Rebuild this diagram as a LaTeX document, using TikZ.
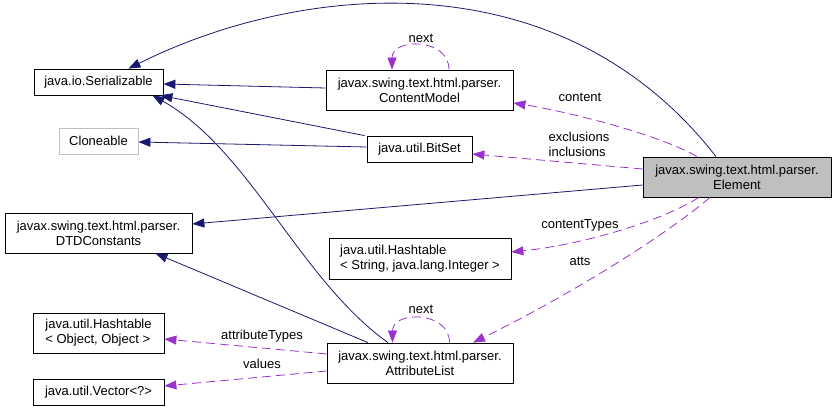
\documentclass[tikz,border=0pt]{standalone}
\usepackage{fontspec}
\setmainfont{Liberation Sans}
\usetikzlibrary{arrows.meta}
\definecolor{inhblue}{RGB}{25,25,112}
\definecolor{usepurple}{RGB}{154,50,205}

\begin{document}
\begin{tikzpicture}[
  x=1pt, y=-1pt,
  cls/.style={draw, line width=0.8pt, inner sep=0pt, font=\fontsize{13}{15}\selectfont, align=center},
  ext/.style={cls, draw=black!25},
  cur/.style={cls, fill=black!25},
  lbl/.style={inner sep=0pt, font=\fontsize{13}{15}\selectfont},
  inh/.style={draw=inhblue, line width=0.8pt, -{Triangle[length=12pt, width=9pt]}},
  memb/.style={draw=usepurple, line width=0.8pt, dash pattern=on 9pt off 5pt, -{Triangle[length=12pt, width=9pt]}},
]
  \useasboundingbox (0,0) rectangle (836,411);

  \node[cls, minimum width=129pt, minimum height=26pt] (ser)    at (98.5, 82)   {java.io.Serializable};
  \node[ext, minimum width=79pt,  minimum height=26pt] (clone)  at (98.5, 141)  {Cloneable};
  \node[cls, minimum width=187pt, minimum height=40pt] (cmodel) at (419.5, 90)  {javax.swing.text.html.parser.\\ContentModel};
  \node[cls, minimum width=105pt, minimum height=26pt] (bitset) at (419.5, 149) {java.util.BitSet};
  \node[cur, minimum width=188pt, minimum height=40pt] (elem)   at (737, 177)   {javax.swing.text.html.parser.\\Element};
  \node[cls, minimum width=187pt, minimum height=40pt] (dtd)    at (98.5, 233)  {javax.swing.text.html.parser.\\DTDConstants};
  \node[cls, align=left, minimum width=182pt, minimum height=41pt] (htsi) at (420, 258.5) {java.util.Hashtable\\< String, java.lang.Integer >};
  \node[cls, align=left, minimum width=131pt, minimum height=40pt] (htoo) at (98.5, 333)  {java.util.Hashtable\\< Object, Object >};
  \node[cls, minimum width=131pt, minimum height=26pt] (vec)    at (98.5, 392)  {java.util.Vector<?>};
  \node[cls, minimum width=186pt, minimum height=40pt] (alist)  at (420, 363)   {javax.swing.text.html.parser.\\AttributeList};

  % inheritance
  \draw[inh] ([xshift=-21pt]elem.north) .. controls (560,-44) and (300,-17) .. ([xshift=30pt]ser.north);
  \draw[inh] ([yshift=2pt]cmodel.west) -- ([yshift=-2pt]ser.east);
  \draw[inh] ([xshift=-2pt]bitset.north west) -- ([xshift=-3pt]ser.south east);
  \draw[inh] ([yshift=2pt]bitset.west) -- ([yshift=-1pt]clone.east);
  \draw[inh] ([yshift=-8pt]elem.west) -- ([yshift=9pt]dtd.east);
  \draw[inh] ([xshift=-52pt]alist.north) -- ([xshift=57pt]dtd.south);
  \draw[inh] ([xshift=-32pt]alist.north) .. controls (300,280) and (250,150) .. ([xshift=54pt]ser.south);

  % usage
  \foreach \n in {cmodel, alist} {
    \draw[memb] ([xshift=29.5pt]\n.north) .. controls +(0,-32) and +(0,-32) .. ([xshift=-27.5pt]\n.north);
  }
  \draw[memb] ([xshift=-40pt]elem.north) .. controls (660,135) and (570,112) .. ([yshift=-13pt]cmodel.east);
  \draw[memb] ([yshift=8pt]elem.west) -- ([yshift=-5pt]bitset.east);
  \draw[memb] ([xshift=-38pt]elem.south) .. controls (660,222) and (580,245) .. ([yshift=6.5pt]htsi.east);
  \draw[memb] ([xshift=-27pt]elem.south) .. controls (660,240) and (560,300) .. ([xshift=53pt]alist.north);
  \draw[memb] ([yshift=9pt]alist.west) -- ([yshift=-6pt]htoo.east);
  \draw[memb] ([yshift=-8pt]alist.west) -- ([yshift=6pt]vec.east);

  \node[lbl] (lnexta)  at (421, 38)  {next};
  \node[lbl] (lcont)   at (580, 97)  {content};
  \node[lbl, align=left] (lincl) at (579, 144) {exclusions\\inclusions};
  \node[lbl] (lctypes) at (580, 225) {contentTypes};
  \node[lbl] (latts)   at (580, 261) {atts};
  \node[lbl] (lnextb)  at (421, 309) {next};
  \node[lbl] (latypes) at (262, 336) {attributeTypes};
  \node[lbl] (lvals)   at (262, 364) {values};
\end{tikzpicture}
\end{document}
